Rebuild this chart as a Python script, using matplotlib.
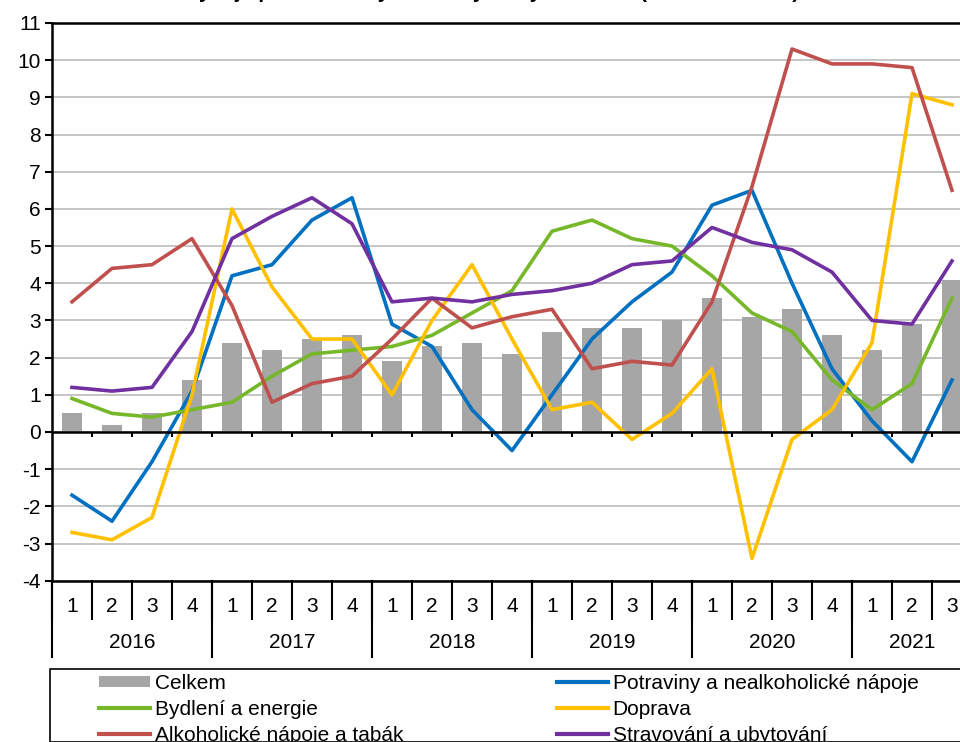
import matplotlib.pyplot as plt
from matplotlib.patches import Rectangle
from matplotlib.lines import Line2D

plt.rcParams["font.family"] = ["Liberation Sans", "DejaVu Sans"]
plt.rcParams["axes.unicode_minus"] = False

years = ["2016", "2017", "2018", "2019", "2020", "2021"]
quarters = ["1", "2", "3", "4"] * 5 + ["1", "2", "3"]

celkem = [0.5, 0.2, 0.5, 1.4, 2.4, 2.2, 2.5, 2.6, 1.9, 2.3, 2.4, 2.1,
          2.7, 2.8, 2.8, 3.0, 3.6, 3.1, 3.3, 2.6, 2.2, 2.9, 4.1]
potraviny = [-1.7, -2.4, -0.8, 1.1, 4.2, 4.5, 5.7, 6.3, 2.9, 2.3, 0.6, -0.5,
             1.0, 2.5, 3.5, 4.3, 6.1, 6.5, 4.0, 1.7, 0.3, -0.8, 1.4]
bydleni = [0.9, 0.5, 0.4, 0.6, 0.8, 1.5, 2.1, 2.2, 2.3, 2.6, 3.2, 3.8,
           5.4, 5.7, 5.2, 5.0, 4.2, 3.2, 2.7, 1.4, 0.6, 1.3, 3.6]
doprava = [-2.7, -2.9, -2.3, 1.0, 6.0, 3.9, 2.5, 2.5, 1.0, 3.0, 4.5, 2.5,
           0.6, 0.8, -0.2, 0.5, 1.7, -3.4, -0.2, 0.6, 2.4, 9.1, 8.8]
alkohol = [3.5, 4.4, 4.5, 5.2, 3.4, 0.8, 1.3, 1.5, 2.5, 3.6, 2.8, 3.1,
           3.3, 1.7, 1.9, 1.8, 3.5, 6.6, 10.3, 9.9, 9.9, 9.8, 6.5]
stravovani = [1.2, 1.1, 1.2, 2.7, 5.2, 5.8, 6.3, 5.6, 3.5, 3.6, 3.5, 3.7,
              3.8, 4.0, 4.5, 4.6, 5.5, 5.1, 4.9, 4.3, 3.0, 2.9, 4.6]

series = [
    ("Potraviny a nealkoholické nápoje", potraviny, "#0070C0"),
    ("Bydlení a energie", bydleni, "#77B82A"),
    ("Doprava", doprava, "#FFC000"),
    ("Alkoholické nápoje a tabák", alkohol, "#C0504D"),
    ("Stravování a ubytování", stravovani, "#7030A0"),
]

FS = 15
W, H = 960, 742
fig = plt.figure(figsize=(W / 100, H / 100), dpi=100)
ax = fig.add_axes([52 / W, 1 - 580.7 / H, 920 / W, 557.7 / H])

x = list(range(len(celkem)))
ax.bar(x, celkem, width=0.5, color="#A6A6A6", zorder=2)
for name, vals, col in series:
    ax.plot(x, vals, color=col, lw=2.6, zorder=3)

ax.set_xlim(-0.5, len(x) - 0.5)
ax.set_ylim(-4, 11)
ax.set_yticks(range(-4, 12))
ax.yaxis.grid(True, color="#C0C0C0", lw=1.3, zorder=0)
ax.set_axisbelow(True)
ax.tick_params(axis="y", direction="out", length=5, width=1.5, labelsize=FS, pad=3)
ax.set_xticks([])
for s in ["left", "bottom", "top"]:
    ax.spines[s].set_linewidth(1.8)
ax.spines["right"].set_visible(False)

# zero line with small category ticks
ax.axhline(0, color="black", lw=1.8, zorder=4)
ax.vlines([i + 0.5 for i in x[:-1]], -0.14, 0, color="black", lw=1.5, zorder=4)

# multi-level category labels
xt = ax.get_xaxis_transform()
axh = 557.7
q_bot = -(619 - 580.7) / axh
y_bot = -(657 - 580.7) / axh
for i, q in enumerate(quarters):
    ax.text(i, -(606 - 580.7) / axh, q, transform=xt, ha="center", va="center", fontsize=FS)
for i in range(len(x)):
    ax.plot([i - 0.5, i - 0.5], [0, q_bot], transform=xt, color="black", lw=1.5, clip_on=False)
for k, yr in enumerate(years):
    start = k * 4 - 0.5
    end = min(start + 4, len(x) - 0.5)
    ax.plot([start, start], [0, y_bot], transform=xt, color="black", lw=1.5, clip_on=False)
    ax.text((start + end) / 2, -(642 - 580.7) / axh, yr, transform=xt,
            ha="center", va="center", fontsize=FS)

# title, cut off by the top edge as in the source
fig.text(492 / W, 1 + 2.5 / H, "Vývoj spotřebitelských cen vybraných oddílů (meziročně v %)",
         ha="center", va="baseline", fontsize=FS, fontweight="bold")

# legend box
fig.patches.append(Rectangle((50 / W, 0), 1, 1 - 669 / H, transform=fig.transFigure,
                             fill=False, edgecolor="black", lw=1.2))

h_bar = Rectangle((0, 0), 1, 1, facecolor="#A6A6A6")
h = {name: Line2D([], [], color=col, lw=3) for name, vals, col in series}
left_items = [(h_bar, "Celkem"), (h["Bydlení a energie"], "Bydlení a energie"),
              (h["Alkoholické nápoje a tabák"], "Alkoholické nápoje a tabák")]
right_items = [(h["Potraviny a nealkoholické nápoje"], "Potraviny a nealkoholické nápoje"),
               (h["Doprava"], "Doprava"),
               (h["Stravování a ubytování"], "Stravování a ubytování")]
for items, x0 in [(left_items, 99), (right_items, 557)]:
    fig.legend([a for a, b in items], [b for a, b in items], loc="upper left",
               bbox_to_anchor=(x0 / W, 1 - 674 / H), frameon=False, fontsize=FS,
               handlelength=2.45, handleheight=0.45, handletextpad=0.22,
               labelspacing=0.33, borderpad=0, borderaxespad=0)

fig.savefig("out.png", dpi=100)
